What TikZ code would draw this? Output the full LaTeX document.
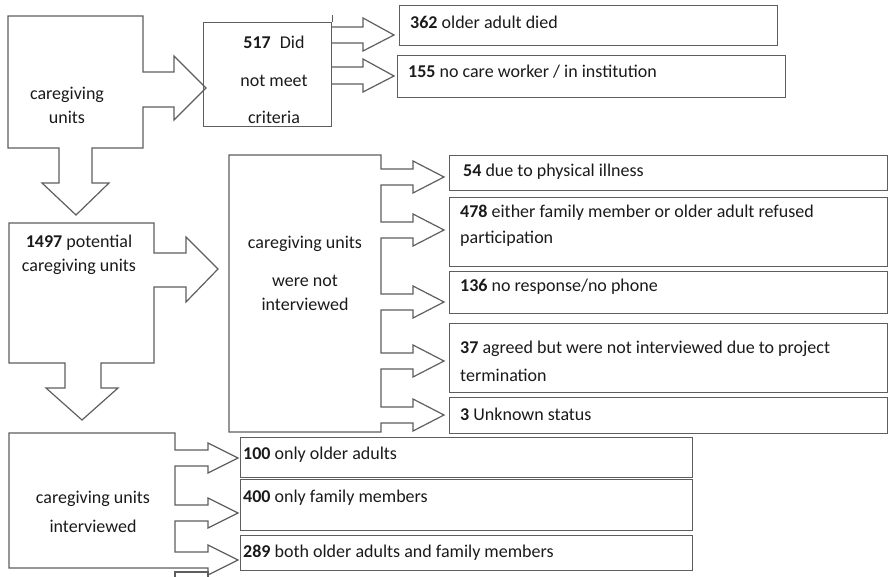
\documentclass[tikz,border=0pt]{standalone}
\usepackage{fontspec}
\setmainfont{Carlito}
\usepackage{tikz}
\definecolor{linegray}{HTML}{5E5E5E}
\definecolor{textgray}{HTML}{1A1A1A}

\begin{document}
\begin{tikzpicture}[x=1pt, y=-1pt]
        % Define styles
        \tikzset{
            outline/.style={draw=linegray, line width=1.2pt},
            box/.style={rectangle, draw=linegray, line width=1.2pt, anchor=north west, inner sep=0pt},
            txt/.style={font=\fontsize{18}{24}\selectfont, text=textgray, inner sep=0pt}
        }
        \useasboundingbox (0,0) rectangle (890,577);

        % Create boxes
        \node [box, minimum width=128pt, minimum height=104pt] (unmet) at (203,22) {};
        \node [box, minimum width=378pt, minimum height=40pt] (died) at (399,5) {};
        \node [box, minimum width=388pt, minimum height=42pt] (inst) at (397,55) {};
        \node [box, minimum width=438pt, minimum height=35pt] (illness) at (449,155) {};
        \node [box, minimum width=438pt, minimum height=69pt] (refused) at (449,197) {};
        \node [box, minimum width=438pt, minimum height=42pt] (phone) at (449,271) {};
        \node [box, minimum width=438pt, minimum height=69pt] (project) at (449,323) {};
        \node [box, minimum width=438pt, minimum height=36pt] (unknown) at (449,397) {};
        \node [box, minimum width=452pt, minimum height=40pt] (older) at (240,437) {};
        \node [box, minimum width=452pt, minimum height=51pt] (family) at (240,479) {};
        \node [box, minimum width=452pt, minimum height=35pt] (both) at (240,535) {};

        % Create block arrows
        \draw [outline] (8,16) -- (143,16) -- (143,72) -- (174,72) -- (174,56) -- (206,88) -- (174,120) -- (174,107) -- (143,107) -- (143,148)
            -- (92,148) -- (92,183) -- (109,183) -- (76,215) -- (42,183) -- (59,183) -- (59,148) -- (8,148) -- cycle;
        \draw [outline] (unmet.north east) -- ++(0,-7);
        \draw [outline] (331,27) -- (363,27) -- (363,18) -- (394,35) -- (363,51) -- (363,43) -- (331,43);
        \draw [outline] (331,67) -- (363,67) -- (363,59) -- (394,76) -- (363,92) -- (363,84) -- (331,84);
        \draw [outline] (9,223) -- (154,223) -- (154,253) -- (186,253) -- (186,237) -- (218,269) -- (186,302) -- (186,287) -- (154,287) -- (154,363)
            -- (101,363) -- (101,388) -- (118,388) -- (82,420) -- (46,388) -- (65,388) -- (65,363) -- (9,363) -- cycle;
        \draw [outline] (229,155) -- (381,155)
            foreach \t in {177,230,302,361,415} { -- (381,\t-8) -- (413,\t-8) -- (413,\t-16) -- (444,\t) -- (413,\t+16) -- (413,\t+8) -- (381,\t+8) }
            -- (381,432) -- (229,432) -- cycle;
        \draw [outline] (9,433) -- (175,433)
            foreach \t in {458,513,560} { -- (175,\t-8) -- (208,\t-8) -- (208,\t-15) -- (238,\t) -- (208,\t+15) -- (208,\t+8) -- (175,\t+8) }
            -- (175,568) -- (9,568) -- cycle;
        \draw [outline] (175,578) -- (175,572) -- (208,572) -- (208,578);

        % Add texts
        \node [txt, align=center] (tcare) at (67,105) {caregiving\\units};
        \node [txt, align=center] (tunmet) at (274,80) {\textbf{517}\enspace Did\\[13.5pt]not meet\\[13.5pt]criteria};
        \node [txt, anchor=west] (tdied) at (410,22) {\textbf{362} older adult died};
        \node [txt, anchor=west] (tinst) at (408,72) {\textbf{155} no care worker / in institution};
        \node [txt, align=center] (tpot) at (79,255) {\textbf{1497} potential\\caregiving units};
        \node [txt, align=center] (tnot) at (305,273) {caregiving units\\[14pt]were not\\interviewed};
        \node [txt, anchor=west] (tillness) at (463,172) {\textbf{54} due to physical illness};
        \node [txt, anchor=west, align=left] (trefused) at (460,226) {\textbf{478} either family member or older adult refused\\[2pt]participation};
        \node [txt, anchor=west] (tphone) at (460,287) {\textbf{136} no response/no phone};
        \node [txt, anchor=west, align=left] (tproject) at (460,361) {\textbf{37} agreed but were not interviewed due to project\\[4pt]termination};
        \node [txt, anchor=west] (tunknown) at (460,414) {\textbf{3} Unknown status};
        \node [txt, align=center] (tint) at (93,512) {caregiving units\\[5pt]interviewed};
        \node [txt, anchor=west] (tolder) at (243,455) {\textbf{100} only older adults};
        \node [txt, anchor=west] (tfamily) at (243,498) {\textbf{400} only family members};
        \node [txt, anchor=west] (tboth) at (243,553) {\textbf{289} both older adults and family members};
    \end{tikzpicture}
\end{document}
